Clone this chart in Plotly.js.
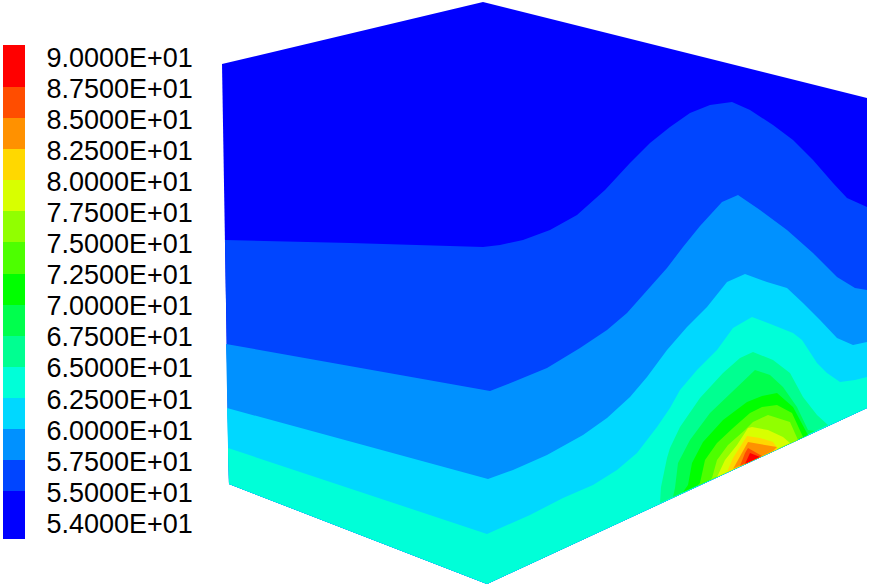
<!DOCTYPE html>
<html><head><meta charset="utf-8">
<script src="https://cdn.plot.ly/plotly-3.0.1.min.js"></script>
<style>html,body{margin:0;padding:0;background:#fff}#c{width:869px;height:587px}</style>
</head><body><div id="c"></div>
<script>
const tickLabels = ["5.4000E+01","5.5000E+01","5.7500E+01","6.0000E+01","6.2500E+01","6.5000E+01","6.7500E+01","7.0000E+01","7.2500E+01","7.5000E+01","7.7500E+01","8.0000E+01","8.2500E+01","8.5000E+01","8.7500E+01","9.0000E+01"];
const bandColors = ["#0000ff","#0045ff","#0091ff","#00d8ff","#00ffd8","#00ff91","#00ff4d","#00ff00","#4dff00","#91ff00","#d8ff00","#ffd800","#ff9100","#ff4d00","#ff0000"];
const scaleSpans = [1.54,1,1,1,1,1,1,1,1,1,1,1,1,1,1.35];

const outlineX = [222,483,867,867,487,229];
const outlineY = [64,2,98,408,584,484];
const lowerX = [867,487,229];
const lowerY = [408,584,484];

const c1X = [225,350,483,500,523,550,577,590,605,630,650,670,690,710,732,750,773,793,813,833,847,867];
const c1Y = [240,243,247,245,240,230,215,203,190,163,143,127,113,105,102,110,125,140,160,183,198,207];
const c2X = [226,490,513,547,580,607,627,647,667,683,700,722,738,760,787,813,837,855,867];
const c2Y = [344,391,382,368,348,330,313,290,268,247,226,202,195,210,230,253,277,288,290];
const c3X = [227,488,513,547,583,607,630,647,667,687,707,727,745,767,787,803,820,837,853,867];
const c3Y = [408,479,470,455,435,418,397,377,350,327,307,282,274,282,288,303,320,338,345,342];
const c4X = [228,487,530,563,593,617,637,657,670,680,697,717,733,752,773,793,802,817,827,840,855,867];
const c4Y = [448,534,515,498,485,470,453,427,408,390,370,350,328,317,325,333,340,363,373,382,380,377];
const c5X = [660,661,667,670,680,700,723,740,753,773,790,803,817,828];
const c5Y = [503,487,458,448,427,398,373,358,352,360,373,397,415,425];
const c6X = [673,675,678,690,710,737,755,770,783,797,808,815];
const c6Y = [497,488,463,440,413,387,370,375,387,407,430,431];
const c7X = [683,688,692,703,723,747,762,777,793,800,808];
const c7Y = [492,485,463,442,420,402,396,393,407,420,435];
const c8X = [697,700,705,717,733,750,762,777,792,803];
const c8Y = [486,483,460,443,428,413,407,405,413,437];
const c9X = [710,712,717,728,745,753,768,790,798];
const c9Y = [480,478,460,445,430,422,415,422,440];
const c10X = [717,725,737,748,752,768,783,790];
const c10Y = [477,460,445,428,427,430,437,443];
const c11X = [727,733,747,760,773,778];
const c11Y = [472,458,436,438,442,449];
const c12X = [733,742,748,777,773];
const c12Y = [469,453,442,447,451];
const c13X = [740,745,748,762];
const c13Y = [466,453,448,456];
const c14X = [745,750,760];
const c14Y = [464,453,457];

const openContours = [[c1X,c1Y],[c2X,c2Y],[c3X,c3Y],[c4X,c4Y]];
const closedContours = [[c5X,c5Y],[c6X,c6Y],[c7X,c7Y],[c8X,c8Y],[c9X,c9Y],[c10X,c10Y],[c11X,c11Y],[c12X,c12Y],[c13X,c13Y],[c14X,c14Y]];

const area = (x,y,col) => ({x,y,type:'scatter',mode:'lines',fill:'toself',fillcolor:col,
  line:{width:0,color:col},hoverinfo:'skip',showlegend:false,xaxis:'x',yaxis:'y'});

const traces = [area(outlineX,outlineY,bandColors[0])];
openContours.forEach((c,i)=>traces.push(area(c[0].concat(lowerX),c[1].concat(lowerY),bandColors[i+1])));
closedContours.forEach((c,i)=>traces.push(area(c[0],c[1],bandColors[i+5])));

scaleSpans.forEach((s,i)=>traces.push({type:'bar',x:[0],y:[s],width:[1],xaxis:'x2',yaxis:'y2',
  marker:{color:bandColors[i],line:{width:0}},hoverinfo:'skip',showlegend:false}));

const W=869,H=587;
const layout = {
  width:W,height:H,margin:{l:0,r:0,t:0,b:0},paper_bgcolor:'#fff',plot_bgcolor:'rgba(0,0,0,0)',
  showlegend:false,barmode:'stack',bargap:0,
  xaxis:{domain:[0,1],range:[0,W],visible:false,fixedrange:true},
  yaxis:{domain:[0,1],range:[H,0],visible:false,fixedrange:true},
  xaxis2:{domain:[3/W,25/W],range:[-0.5,0.5],anchor:'y2',visible:false,fixedrange:true},
  yaxis2:{domain:[1-539/H,1-45/H],range:[0,15.89],anchor:'x2',side:'right',showgrid:false,zeroline:false,showline:false,
    tickmode:'array',tickvals:tickLabels.map((_,i)=>i+0.5),ticktext:tickLabels,
    ticks:'outside',ticklen:15,tickcolor:'rgba(0,0,0,0)',
    tickfont:{family:'"Liberation Sans",Arial,sans-serif',size:27,color:'#000'},fixedrange:true}
};
Plotly.newPlot('c',traces,layout,{displayModeBar:false,staticPlot:true});
</script></body></html>
